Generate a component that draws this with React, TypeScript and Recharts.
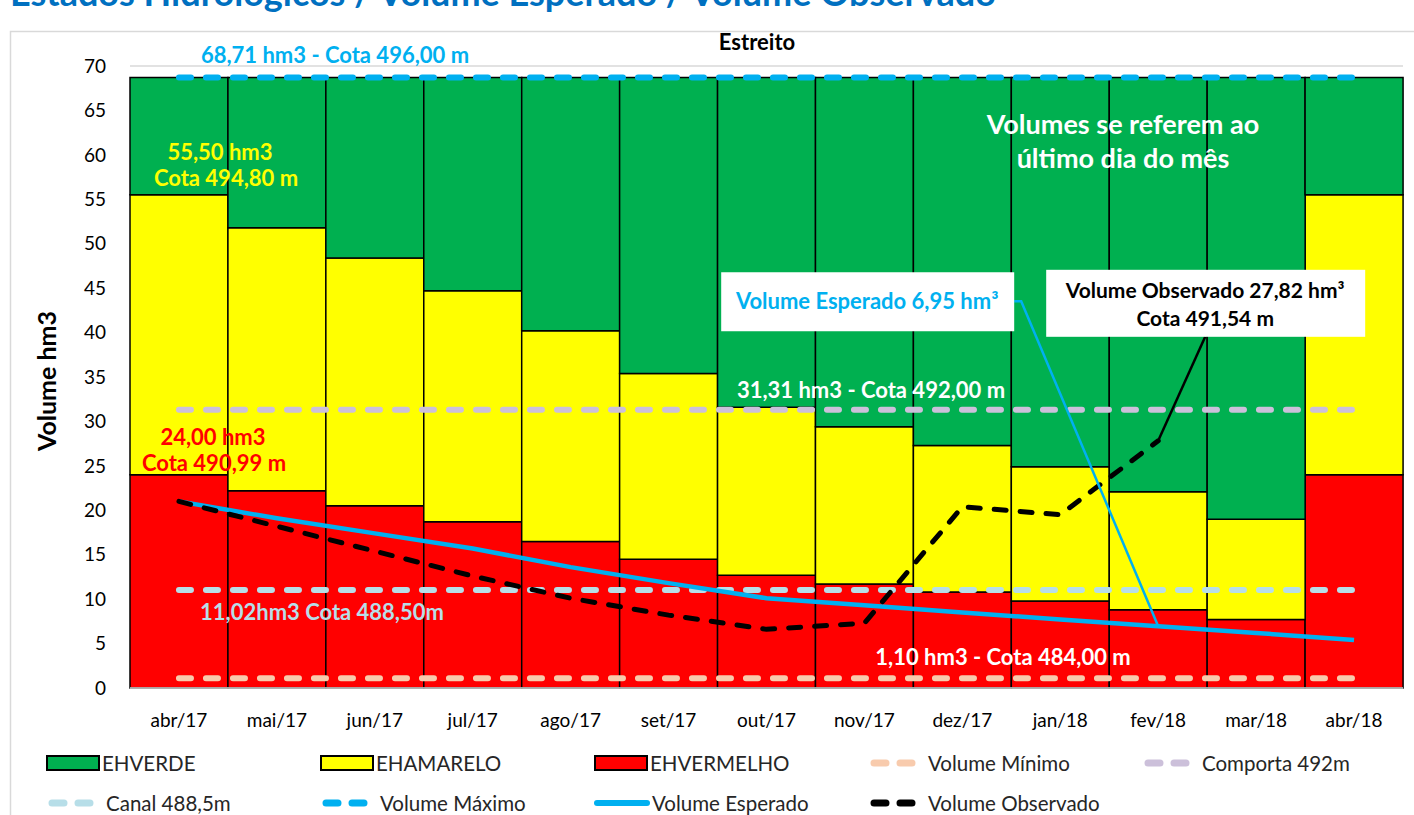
import React from "react";
import {
  ComposedChart,
  Bar,
  Line,
  XAxis,
  YAxis,
  CartesianGrid,
} from "recharts";

// months shown on the x axis
const months = [
  "abr/17", "mai/17", "jun/17", "jul/17", "ago/17", "set/17", "out/17",
  "nov/17", "dez/17", "jan/18", "fev/18", "mar/18", "abr/18",
];

// stacked bands (hm3), bottom to top
const ehVermelho = [24.0, 22.2, 20.5, 18.7, 16.5, 14.5, 12.7, 11.7, 10.8, 9.8, 8.8, 7.7, 24.0];
const ehAmarelo = [31.5, 29.6, 27.9, 26.0, 23.7, 20.9, 18.9, 17.7, 16.5, 15.1, 13.3, 11.3, 31.5];
const ehVerde = [13.21, 16.91, 20.31, 24.01, 28.51, 33.31, 37.11, 39.31, 41.41, 43.81, 46.61, 49.71, 13.21];

// reference levels (hm3)
const volumeMinimo = 1.1;
const comporta492 = 31.31;
const canal4885 = 11.02;
const volumeMaximo = 68.71;

const volumeEsperado = [21.0, 19.1, 17.4, 15.7, 13.6, 11.8, 10.1, 9.3, 8.5, 7.7, 6.95, 6.2, 5.4];
const volumeObservado = [21.0, 18.2, 15.4, 12.6, 10.1, 8.2, 6.6, 7.3, 20.4, 19.5, 27.82, null, null];

const yTicks = [0, 5, 10, 15, 20, 25, 30, 35, 40, 45, 50, 55, 60, 65, 70];

const data = months.map((m, i) => ({
  mes: m,
  vermelho: ehVermelho[i],
  amarelo: ehAmarelo[i],
  verde: ehVerde[i],
  minimo: volumeMinimo,
  comporta: comporta492,
  canal: canal4885,
  maximo: volumeMaximo,
  esperado: volumeEsperado[i],
  observado: volumeObservado[i],
}));

const FONT = "Lato, 'Open Sans', sans-serif";
const CALLOUT_INDEX = 10; // fev/18

const EsperadoCallout = (props: any) => {
  const { x, y, index } = props;
  if (index !== CALLOUT_INDEX) return null;
  return (
    <g>
      <polyline
        points={`${x - 144},${y - 325} ${x - 137},${y - 325} ${x},${y}`}
        fill="none"
        stroke="#00B0F0"
        strokeWidth={2.5}
      />
      <rect x={x - 437} y={y - 354} width={293} height={59} fill="#fff" />
      <text
        x={x - 291}
        y={y - 317}
        textAnchor="middle"
        fill="#00B0F0"
        fontFamily={FONT}
        fontWeight={700}
        fontSize={22}
      >
        Volume Esperado 6,95 hm³
      </text>
    </g>
  );
};

const ObservadoCallout = (props: any) => {
  const { x, y, index } = props;
  if (index !== CALLOUT_INDEX) return null;
  return (
    <g>
      <line x1={x} y1={y} x2={x + 47} y2={y - 104} stroke="#000" strokeWidth={2.5} />
      <rect x={x - 112} y={y - 171} width={319} height={67} fill="#fff" />
      <text
        x={x + 47}
        textAnchor="middle"
        fill="#000"
        fontFamily={FONT}
        fontWeight={700}
        fontSize={21}
      >
        <tspan x={x + 47} y={y - 143}>Volume Observado 27,82 hm³</tspan>
        <tspan x={x + 47} y={y - 115}>Cota 491,54 m</tspan>
      </text>
    </g>
  );
};

const legendRows = [
  [
    { label: "EHVERDE", kind: "box", color: "#00B050", left: 46 },
    { label: "EHAMARELO", kind: "box", color: "#FFFF00", left: 320 },
    { label: "EHVERMELHO", kind: "box", color: "#FF0000", left: 594 },
    { label: "Volume Mínimo", kind: "dash", color: "#F8CBAD", left: 868 },
    { label: "Comporta 492m", kind: "dash", color: "#CCC0DA", left: 1142 },
  ],
  [
    { label: "Canal 488,5m", kind: "dash", color: "#B7DEE8", left: 46 },
    { label: "Volume Máximo", kind: "dash", color: "#00B0F0", left: 320 },
    { label: "Volume Esperado", kind: "line", color: "#00B0F0", left: 594 },
    { label: "Volume Observado", kind: "dash", color: "#000000", left: 868 },
  ],
];

function LegendIcon({ kind, color }: { kind: string; color: string }) {
  if (kind === "box") {
    return (
      <svg width={56} height={18} style={{ display: "block" }}>
        <rect x={1} y={2} width={52} height={14} fill={color} stroke="#000" strokeWidth={2} />
      </svg>
    );
  }
  if (kind === "line") {
    return (
      <svg width={58} height={18} style={{ display: "block" }}>
        <line x1={3} y1={9} x2={53} y2={9} stroke={color} strokeWidth={6} strokeLinecap="round" />
      </svg>
    );
  }
  return (
    <svg width={60} height={18} style={{ display: "block" }}>
      <line
        x1={6}
        y1={9}
        x2={46}
        y2={9}
        stroke={color}
        strokeWidth={7}
        strokeLinecap="round"
        strokeDasharray="12 14"
      />
    </svg>
  );
}

export default function App() {
  return (
    <div
      style={{
        position: "relative",
        width: 1414,
        height: 815,
        overflow: "hidden",
        background: "#fff",
        fontFamily: FONT,
      }}
    >
      <style>{`body{margin:0}`}</style>

      {/* frame + page title (cut at the top edge, as in the source) */}
      <svg
        width={1414}
        height={815}
        style={{ position: "absolute", left: 0, top: 0, pointerEvents: "none" }}
      >
        <rect x={10.5} y={31.5} width={1420} height={800} fill="none" stroke="#D9D9D9" strokeWidth={1.5} />
        <text x={10} y={6} fill="#0070C0" fontFamily={FONT} fontWeight={700} fontSize={36}>
          Estados Hidrológicos / Volume Esperado / Volume Observado
        </text>
      </svg>

      <div style={{ position: "absolute", left: 0, top: 0 }}>
        <ComposedChart
          width={1414}
          height={730}
          data={data}
          margin={{ top: 66, right: 11, left: 70, bottom: 2 }}
          barCategoryGap={0}
          barGap={0}
        >
          <CartesianGrid vertical={false} stroke="#D9D9D9" strokeWidth={1.5} />
          <XAxis
            dataKey="mes"
            height={40}
            tickLine={false}
            axisLine={{ stroke: "#D9D9D9", strokeWidth: 1.5 }}
            tickMargin={20}
            tick={{ fill: "#000", fontSize: 19, fontFamily: FONT }}
            interval={0}
          />
          <YAxis
            width={60}
            domain={[0, 70]}
            ticks={yTicks}
            interval={0}
            tickLine={false}
            axisLine={false}
            tickMargin={18}
            tick={{ fill: "#000", fontSize: 19, fontFamily: FONT }}
          />
          <Bar dataKey="vermelho" stackId="eh" fill="#FF0000" stroke="#000" strokeWidth={1.5} isAnimationActive={false} />
          <Bar dataKey="amarelo" stackId="eh" fill="#FFFF00" stroke="#000" strokeWidth={1.5} isAnimationActive={false} />
          <Bar dataKey="verde" stackId="eh" fill="#00B050" stroke="#000" strokeWidth={1.5} isAnimationActive={false} />

          <Line dataKey="minimo" stroke="#F8CBAD" strokeWidth={6} strokeLinecap="round" strokeDasharray="12 15" dot={false} activeDot={false} isAnimationActive={false} />
          <Line dataKey="comporta" stroke="#CCC0DA" strokeWidth={6} strokeLinecap="round" strokeDasharray="12 15" dot={false} activeDot={false} isAnimationActive={false} />
          <Line dataKey="canal" stroke="#B7DEE8" strokeWidth={6} strokeLinecap="round" strokeDasharray="12 15" dot={false} activeDot={false} isAnimationActive={false} />
          <Line dataKey="maximo" stroke="#00B0F0" strokeWidth={6} strokeLinecap="round" strokeDasharray="12 15" dot={false} activeDot={false} isAnimationActive={false} />
          <Line
            dataKey="esperado"
            stroke="#00B0F0"
            strokeWidth={4.5}
            dot={false}
            activeDot={false}
            label={EsperadoCallout}
            isAnimationActive={false}
          />
          <Line
            dataKey="observado"
            stroke="#000"
            strokeWidth={5}
            strokeLinecap="round"
            strokeDasharray="12 14"
            dot={false}
            activeDot={false}
            label={ObservadoCallout}
            isAnimationActive={false}
          />
        </ComposedChart>
      </div>

      {/* text labels placed over the plot */}
      <svg
        width={1414}
        height={815}
        style={{ position: "absolute", left: 0, top: 0, pointerEvents: "none" }}
        fontFamily={FONT}
        fontWeight={700}
        fontSize={22}
        textAnchor="middle"
      >
        <text x={757} y={50} fill="#000">Estreito</text>
        <text x={335} y={63} fill="#00B0F0">68,71 hm3 - Cota 496,00 m</text>
        <text x={220} y={160} fill="#FFFF00">55,50 hm3</text>
        <text x={226} y={186} fill="#FFFF00">Cota 494,80 m</text>
        <text x={1123} y={134} fill="#fff" fontSize={27}>Volumes se referem ao</text>
        <text x={1123} y={168} fill="#fff" fontSize={27}>último dia do mês</text>
        <text x={213} y={445} fill="#FF0000">24,00 hm3</text>
        <text x={214} y={471} fill="#FF0000">Cota 490,99 m</text>
        <text x={871} y={398} fill="#fff">31,31 hm3 - Cota 492,00 m</text>
        <text x={322} y={620} fill="#B7DEE8">11,02hm3 Cota 488,50m</text>
        <text x={1003} y={665} fill="#fff">1,10 hm3 - Cota 484,00 m</text>
        <text
          x={0}
          y={0}
          fontSize={25}
          fill="#000"
          transform="translate(56 381) rotate(-90)"
        >
          Volume hm3
        </text>
      </svg>

      {/* legend */}
      {legendRows.map((row, r) =>
        row.map((item) => (
          <div
            key={item.label}
            style={{
              position: "absolute",
              left: item.left,
              top: r === 0 ? 752 : 792,
              display: "flex",
              alignItems: "center",
              fontSize: 20.5,
              color: "#262626",
              whiteSpace: "nowrap",
              lineHeight: "22px",
            }}
          >
            <LegendIcon kind={item.kind} color={item.color} />
            <span>{item.label}</span>
          </div>
        ))
      )}
    </div>
  );
}
